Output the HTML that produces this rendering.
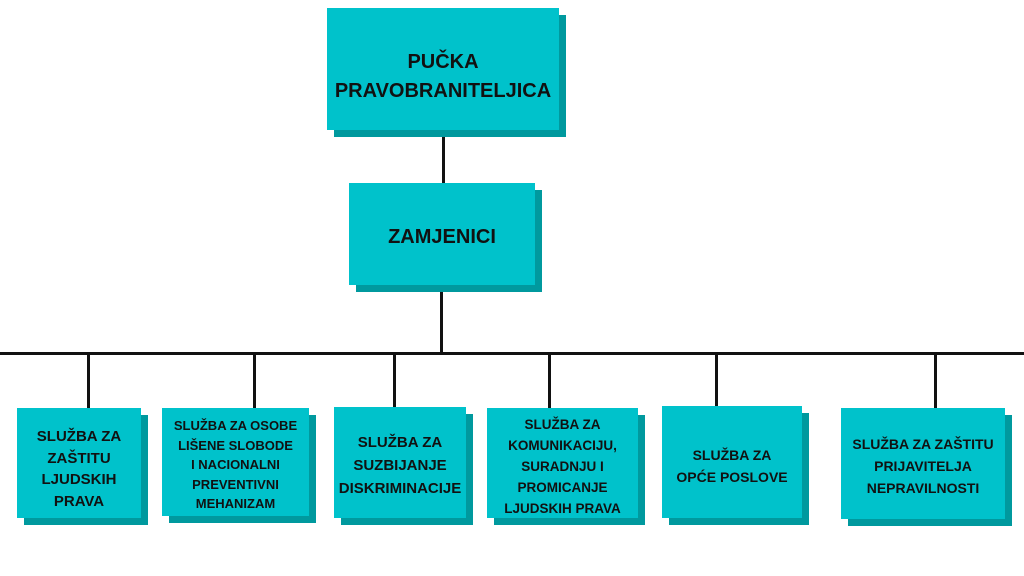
<!DOCTYPE html>
<html><head><meta charset="utf-8"><style>
body{margin:0;width:1024px;height:576px;background:#fff;position:relative;overflow:hidden;font-family:"Liberation Sans",sans-serif;}
.b{position:absolute;background:#00c2cb;box-shadow:7px 7px 0 #00999e;display:flex;align-items:center;justify-content:center;text-align:center;font-weight:bold;color:#111;}
.l{position:absolute;background:#111;}
.s{font-size:14px;line-height:22px;}
</style></head><body>
<div class="l" style="left:442px;top:135px;width:3px;height:50px"></div>
<div class="l" style="left:440px;top:290px;width:3px;height:65px"></div>
<div class="l" style="left:0;top:352px;width:1024px;height:3px"></div>
<div class="l" style="left:87px;top:352px;width:3px;height:58px"></div>
<div class="l" style="left:253px;top:352px;width:3px;height:58px"></div>
<div class="l" style="left:393px;top:352px;width:3px;height:58px"></div>
<div class="l" style="left:548px;top:352px;width:3px;height:58px"></div>
<div class="l" style="left:715px;top:352px;width:3px;height:58px"></div>
<div class="l" style="left:934px;top:352px;width:3px;height:58px"></div>

<div class="b" style="left:327px;top:8px;width:232px;height:122px;font-size:20px;line-height:29px"><div style="margin-top:16px">PUČKA<br>PRAVOBRANITELJICA</div></div>
<div class="b" style="left:349px;top:183px;width:186px;height:102px;font-size:20px"><div style="margin-top:6px">ZAMJENICI</div></div>

<div class="b s" style="left:17px;top:408px;width:124px;height:110px;font-size:15px;line-height:21.5px"><div style="margin-top:12px">SLUŽBA ZA<br>ZAŠTITU<br>LJUDSKIH<br>PRAVA</div></div>
<div class="b s" style="left:162px;top:408px;width:147px;height:108px;line-height:19.5px;font-size:13px"><div style="margin-top:6px">SLUŽBA ZA OSOBE<br>LIŠENE SLOBODE<br>I NACIONALNI<br>PREVENTIVNI<br>MEHANIZAM</div></div>
<div class="b s" style="left:334px;top:407px;width:132px;height:111px;font-size:15px;line-height:23px"><div style="margin-top:6px">SLUŽBA ZA<br>SUZBIJANJE<br>DISKRIMINACIJE</div></div>
<div class="b s" style="left:487px;top:408px;width:151px;height:110px;line-height:21px;font-size:13.5px"><div style="margin-top:6px">SLUŽBA ZA<br>KOMUNIKACIJU,<br>SURADNJU I<br>PROMICANJE<br>LJUDSKIH PRAVA</div></div>
<div class="b s" style="left:662px;top:406px;width:140px;height:112px;font-size:14px"><div style="margin-top:8px">SLUŽBA ZA<br>OPĆE POSLOVE</div></div>
<div class="b s" style="left:841px;top:408px;width:164px;height:111px;font-size:14px"><div style="margin-top:4px">SLUŽBA ZA ZAŠTITU<br>PRIJAVITELJA<br>NEPRAVILNOSTI</div></div>
</body></html>
